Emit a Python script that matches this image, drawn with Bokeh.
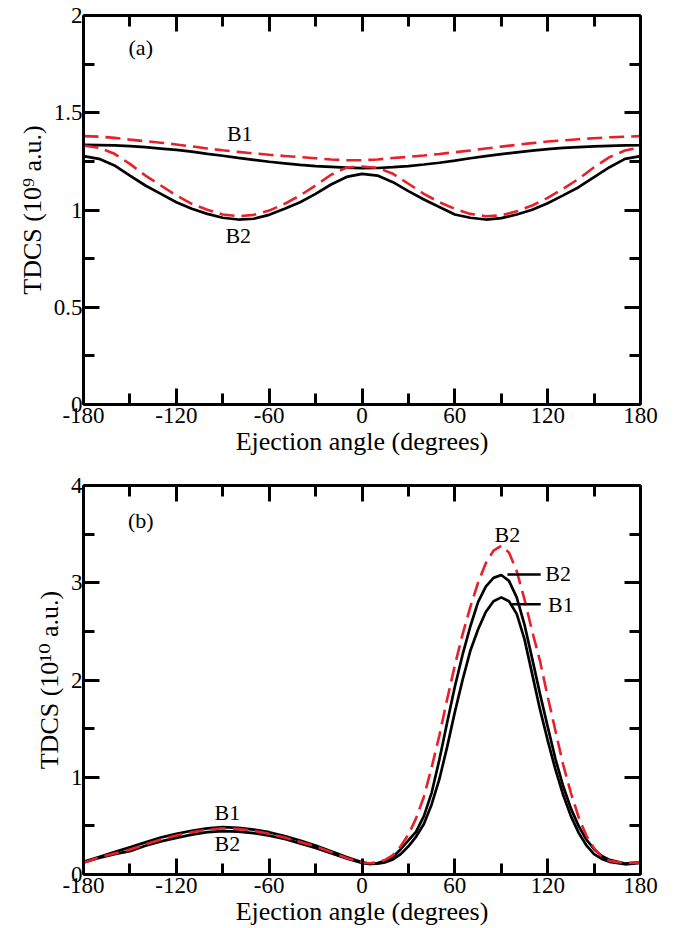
from bokeh.plotting import figure
from bokeh.models import FixedTicker, Label, Range1d, LinearAxis
from bokeh.layouts import column
from bokeh.embed import file_html
from bokeh.resources import INLINE

FONT = "Liberation Serif, Times New Roman, DejaVu Serif, serif"
RED = "#e8202a"

# ---------------- data ----------------
angles = list(range(-180, 181, 10))

# panel (a)  (units 1e9 a.u.)
a_b1_solid = [1.335, 1.334, 1.332, 1.328, 1.323, 1.316, 1.309, 1.300, 1.289, 1.279,
              1.268, 1.258, 1.248, 1.240, 1.232, 1.226, 1.222, 1.218, 1.215, 1.216,
              1.220, 1.226, 1.234, 1.243, 1.254, 1.266, 1.277, 1.287, 1.296, 1.305,
              1.313, 1.319, 1.323, 1.327, 1.330, 1.332, 1.333]
a_b1_dash = [1.380, 1.377, 1.371, 1.362, 1.354, 1.346, 1.337, 1.327, 1.316, 1.307,
             1.299, 1.291, 1.284, 1.278, 1.272, 1.266, 1.260, 1.256, 1.256, 1.260,
             1.267, 1.273, 1.280, 1.288, 1.297, 1.306, 1.316, 1.326, 1.335, 1.344,
             1.352, 1.358, 1.364, 1.369, 1.374, 1.377, 1.380]
a_b2_solid = [1.277, 1.263, 1.229, 1.177, 1.126, 1.083, 1.040, 1.006, 0.980, 0.960,
              0.951, 0.955, 0.975, 1.006, 1.040, 1.083, 1.131, 1.170, 1.186, 1.177,
              1.143, 1.097, 1.054, 1.015, 0.977, 0.960, 0.951, 0.958, 0.977, 1.001,
              1.035, 1.075, 1.117, 1.169, 1.220, 1.263, 1.277]
a_b2_dash = [1.332, 1.320, 1.289, 1.237, 1.177, 1.126, 1.075, 1.032, 1.001, 0.977,
             0.968, 0.975, 0.997, 1.032, 1.075, 1.126, 1.181, 1.218, 1.224, 1.217,
             1.186, 1.135, 1.083, 1.040, 1.006, 0.980, 0.968, 0.972, 0.994, 1.023,
             1.062, 1.109, 1.160, 1.220, 1.272, 1.306, 1.323]

# panel (b)  (units 1e10 a.u.)
angles_b = [-180, -170, -160, -150, -140, -130, -120, -110, -100, -90, -80, -70, -60,
            -50, -40, -30, -20, -10, 0,
            5, 10, 15, 20, 25, 30, 35, 40, 45, 50, 55, 60, 65, 70, 75, 80, 85, 90,
            95, 100, 105, 110, 115, 120, 125, 130, 135, 140, 145, 150, 155, 160,
            170, 180]
b_b1_solid = [0.130, 0.180, 0.230, 0.280, 0.330, 0.380, 0.418, 0.450, 0.475, 0.487,
              0.480, 0.462, 0.435, 0.395, 0.350, 0.298, 0.240, 0.180, 0.125,
              0.110, 0.112, 0.125, 0.155, 0.210, 0.290, 0.390, 0.520, 0.720, 0.980,
              1.310, 1.670, 2.000, 2.300, 2.520, 2.700, 2.810, 2.850,
              2.810, 2.680, 2.420, 2.060, 1.700, 1.380, 1.080, 0.820, 0.600, 0.430,
              0.300, 0.210, 0.160, 0.130,
              0.105, 0.120]
b_b2_solid = [0.125, 0.170, 0.210, 0.240, 0.295, 0.340, 0.377, 0.410, 0.435, 0.446,
              0.440, 0.425, 0.400, 0.365, 0.320, 0.274, 0.220, 0.165, 0.120,
              0.110, 0.118, 0.140, 0.180, 0.260, 0.350, 0.440, 0.600, 0.840, 1.180,
              1.560, 1.930, 2.260, 2.550, 2.800, 2.960, 3.050, 3.080,
              3.020, 2.850, 2.570, 2.220, 1.860, 1.520, 1.190, 0.910, 0.680, 0.500,
              0.360, 0.260, 0.190, 0.150,
              0.112, 0.127]
b_b2_dash = [0.120, 0.175, 0.215, 0.255, 0.310, 0.360, 0.400, 0.435, 0.460, 0.475,
             0.468, 0.450, 0.418, 0.380, 0.335, 0.290, 0.230, 0.170, 0.125,
             0.115, 0.125, 0.150, 0.200, 0.290, 0.410, 0.580, 0.800, 1.100, 1.430,
             1.800, 2.150, 2.470, 2.750, 3.000, 3.200, 3.330, 3.380,
             3.310, 3.120, 2.830, 2.500, 2.200, 1.830, 1.480, 1.130, 0.840, 0.590,
             0.400, 0.270, 0.180, 0.140,
             0.115, 0.125]

x_ticks = [-180, -120, -60, 0, 60, 120, 180]
x_minor = [-150, -90, -30, 30, 90, 150]
x_labels = ["-180", "-120", "-60", "0", "60", "120", "180"]

ya_ticks = [0, 0.5, 1, 1.5, 2]
ya_minor = [0.25, 0.75, 1.25, 1.75]
ya_labels = ["0", "0.5", "1", "1.5", "2"]

yb_ticks = [0, 1, 2, 3, 4]
yb_minor = [0.5, 1.5, 2.5, 3.5]
yb_labels = ["0", "1", "2", "3", "4"]


def style_axis(ax, show_labels):
    ax.axis_line_width = 3
    ax.axis_line_color = "black"
    ax.major_tick_in = 16
    ax.major_tick_out = 0
    ax.minor_tick_in = 11
    ax.minor_tick_out = 0
    ax.major_tick_line_width = 3
    ax.minor_tick_line_width = 3
    ax.major_label_text_font = FONT
    ax.axis_label_text_font = FONT
    ax.axis_label_text_font_size = "26px"
    ax.axis_label_text_font_style = "normal"
    ax.axis_label_text_color = "black"
    if show_labels:
        ax.major_label_text_font_size = "23px"
        ax.major_label_text_color = "black"
    else:
        ax.major_label_text_font_size = "1px"
        ax.major_label_text_color = None
        ax.major_label_standoff = 0


def make_fig(ymax, yt, ym, yl, ylabel, top, bottom, fh):
    p = figure(frame_width=557, frame_height=fh,
               x_range=Range1d(-180, 180), y_range=Range1d(0, ymax),
               output_backend="svg", toolbar_location=None,
               min_border_left=83, min_border_right=29,
               min_border_top=top, min_border_bottom=bottom)
    p.outline_line_color = None
    p.xgrid.visible = False
    p.ygrid.visible = False
    p.background_fill_color = "white"
    p.border_fill_color = "white"

    p.xaxis.ticker = FixedTicker(ticks=x_ticks, minor_ticks=x_minor)
    p.xaxis.major_label_overrides = {t: s for t, s in zip(x_ticks, x_labels)}
    p.xaxis.axis_label = "Ejection angle (degrees)"
    style_axis(p.xaxis[0], True)
    p.xaxis.major_label_standoff = 3
    p.xaxis.axis_label_standoff = 1

    p.yaxis.ticker = FixedTicker(ticks=yt, minor_ticks=ym)
    p.yaxis.major_label_overrides = {t: s for t, s in zip(yt, yl)}
    p.yaxis.axis_label = ylabel
    style_axis(p.yaxis[0], True)
    p.yaxis.major_label_standoff = 1
    p.yaxis.axis_label_standoff = 4

    top_ax = LinearAxis(ticker=FixedTicker(ticks=x_ticks, minor_ticks=x_minor))
    style_axis(top_ax, False)
    p.add_layout(top_ax, "above")

    right_ax = LinearAxis(ticker=FixedTicker(ticks=yt, minor_ticks=ym))
    style_axis(right_ax, False)
    p.add_layout(right_ax, "right")
    return p


def add_label(p, x, y, txt, align="center", size="22px"):
    p.add_layout(Label(x=x, y=y, text=txt, text_font=FONT, text_font_size=size,
                       text_align=align, text_baseline="middle", text_color="black"))


# ---------------- panel (a) ----------------
p1 = make_fig(2, ya_ticks, ya_minor, ya_labels, "TDCS (10⁹ a.u.)", 15, 56, 389)
p1.line(angles, a_b1_solid, line_color="black", line_width=2.7)
p1.line(angles, a_b2_solid, line_color="black", line_width=2.7)
p1.line(angles, a_b1_dash, line_color=RED, line_width=2.6, line_dash="15 7")
p1.line(angles, a_b2_dash, line_color=RED, line_width=2.6, line_dash="15 7")
add_label(p1, -143, 1.835, "(a)")
add_label(p1, -79, 1.393, "B1")
add_label(p1, -80, 0.869, "B2")

# ---------------- panel (b) ----------------
p2 = make_fig(4, yb_ticks, yb_minor, yb_labels, "TDCS (10¹⁰ a.u.)", 25, 50, 389)
p2.line(angles_b, b_b1_solid, line_color="black", line_width=2.7)
p2.line(angles_b, b_b2_solid, line_color="black", line_width=2.7)
p2.line(angles_b, b_b2_dash, line_color=RED, line_width=2.6, line_dash="15 7")
p2.segment(x0=[94, 97], y0=[3.085, 2.78], x1=[115.5, 115.5], y1=[3.085, 2.78],
           line_color="black", line_width=2.5)
add_label(p2, -143, 3.64, "(b)")
add_label(p2, -87, 0.64, "B1")
add_label(p2, -87, 0.315, "B2")
add_label(p2, 94, 3.50, "B2")
add_label(p2, 118.5, 3.09, "B2", align="left")
add_label(p2, 120.2, 2.78, "B1", align="left")

layout = column(p1, p2, spacing=0)
open("out.html", "w").write(file_html(layout, INLINE))
